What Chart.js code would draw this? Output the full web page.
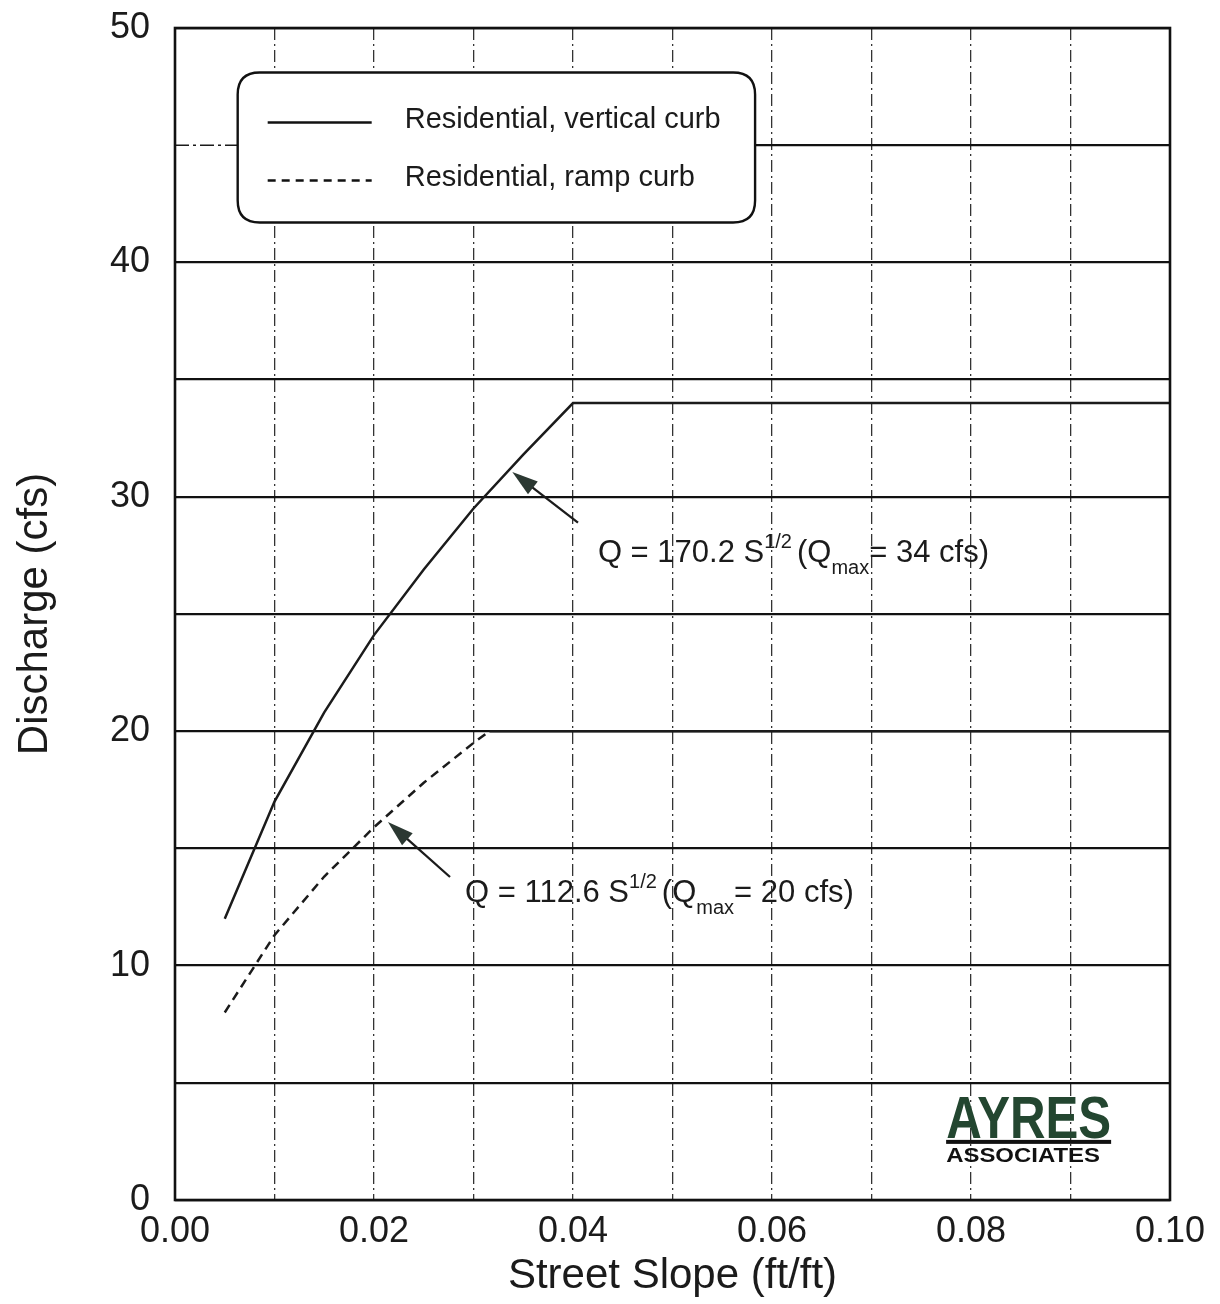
<!DOCTYPE html>
<html><head><meta charset="utf-8">
<script src="https://cdn.jsdelivr.net/npm/chart.js@4.4.0/dist/chart.umd.min.js"></script>
<style>html,body{margin:0;padding:0;background:#fff;}canvas{display:block;}</style>
</head><body>
<canvas id="c" width="1220" height="1304"></canvas>
<script>
// ---- data ----
const verticalSlope = [0.005, 0.01, 0.015, 0.02, 0.025, 0.03, 0.035, 0.04, 0.10];
const verticalCurb  = [12.0, 17.0, 20.8, 24.1, 26.9, 29.5, 31.8, 34.0, 34.0];
const rampSlope     = [0.005, 0.01, 0.015, 0.02, 0.025, 0.03, 0.0316, 0.10];
const rampCurb      = [8.0, 11.3, 13.8, 15.9, 17.8, 19.5, 20.0, 20.0];
const yTickLabels = ['0','10','20','30','40','50'];
const xTickLabels = ['0.00','0.02','0.04','0.06','0.08','0.10'];
const seriesNames = ['Residential, vertical curb', 'Residential, ramp curb'];

const FONT = "'Liberation Sans', Arial, Helvetica, sans-serif";
const INK = '#1b1b1b';

function toXY(xs, ys){ return xs.map((x,i)=>({x:x, y:ys[i]})); }

function richText(ctx, x, y, segs){
  let cx = x;
  for (const s of segs){
    ctx.font = s.size + 'px ' + FONT;
    ctx.fillText(s.t, cx, y + (s.dy||0));
    cx += ctx.measureText(s.t).width + (s.gap||0);
  }
}
function arrow(ctx, x1, y1, x2, y2){
  const ang = Math.atan2(y2-y1, x2-x1);
  const L = 26, W = 8;
  ctx.strokeStyle = INK; ctx.lineWidth = 2.3; ctx.setLineDash([]);
  ctx.beginPath(); ctx.moveTo(x1,y1);
  ctx.lineTo(x2 - Math.cos(ang)*L*0.8, y2 - Math.sin(ang)*L*0.8); ctx.stroke();
  ctx.fillStyle = '#2b3832';
  ctx.beginPath();
  ctx.moveTo(x2, y2);
  ctx.lineTo(x2 - Math.cos(ang)*L + Math.sin(ang)*W, y2 - Math.sin(ang)*L - Math.cos(ang)*W);
  ctx.lineTo(x2 - Math.cos(ang)*L - Math.sin(ang)*W, y2 - Math.sin(ang)*L + Math.cos(ang)*W);
  ctx.closePath(); ctx.fill();
}
function roundRect(ctx, x, y, w, h, r){
  ctx.beginPath();
  ctx.moveTo(x+r, y); ctx.lineTo(x+w-r, y); ctx.quadraticCurveTo(x+w, y, x+w, y+r);
  ctx.lineTo(x+w, y+h-r); ctx.quadraticCurveTo(x+w, y+h, x+w-r, y+h);
  ctx.lineTo(x+r, y+h); ctx.quadraticCurveTo(x, y+h, x, y+h-r);
  ctx.lineTo(x, y+r); ctx.quadraticCurveTo(x, y, x+r, y);
  ctx.closePath();
}

const decor = {
  id: 'decor',
  beforeDatasetsDraw(chart){
    const ctx = chart.ctx, xs = chart.scales.x, ys = chart.scales.y, a = chart.chartArea;
    const y45 = ys.getPixelForValue(45);
    ctx.save();
    ctx.fillStyle = '#fff';
    ctx.fillRect(a.left+1, y45-2, xs.getPixelForValue(0.0063)-a.left, 4);
    ctx.strokeStyle = INK; ctx.lineWidth = 1.6; ctx.setLineDash([14,4,3,4]);
    ctx.beginPath(); ctx.moveTo(a.left, y45); ctx.lineTo(xs.getPixelForValue(0.0063), y45); ctx.stroke();
    ctx.restore();
  },
  afterDatasetsDraw(chart){
    const ctx = chart.ctx, xs = chart.scales.x, ys = chart.scales.y, a = chart.chartArea;
    ctx.save();
    ctx.setLineDash([]);
    ctx.strokeStyle = '#111'; ctx.lineWidth = 2.6;
    ctx.strokeRect(a.left, a.top, a.right-a.left, a.bottom-a.top);

    // legend box
    const bx = xs.getPixelForValue(0.0063), bx2 = xs.getPixelForValue(0.0583);
    const by = ys.getPixelForValue(48.1), by2 = ys.getPixelForValue(41.7);
    roundRect(ctx, bx, by, bx2-bx, by2-by, 22);
    ctx.fillStyle = '#fff'; ctx.fill();
    ctx.strokeStyle = '#111'; ctx.lineWidth = 2.4; ctx.stroke();
    ctx.lineWidth = 2.4;
    ctx.beginPath(); ctx.moveTo(bx+30, by+50); ctx.lineTo(bx+134, by+50); ctx.stroke();
    ctx.setLineDash([8,6]);
    ctx.beginPath(); ctx.moveTo(bx+30, by+108); ctx.lineTo(bx+134, by+108); ctx.stroke();
    ctx.setLineDash([]);
    ctx.fillStyle = INK; ctx.font = '29px ' + FONT; ctx.textBaseline = 'alphabetic';
    ctx.fillText(seriesNames[0], bx+167, by+55);
    ctx.fillText(seriesNames[1], bx+167, by+113);

    // annotations
    arrow(ctx, xs.getPixelForValue(0.0405), ys.getPixelForValue(28.9), xs.getPixelForValue(0.0339), ys.getPixelForValue(31.06));
    arrow(ctx, xs.getPixelForValue(0.02764), ys.getPixelForValue(13.78), xs.getPixelForValue(0.0214), ys.getPixelForValue(16.13));
    ctx.fillStyle = INK;
    richText(ctx, xs.getPixelForValue(0.0425), ys.getPixelForValue(27.2), [
      {t:'Q = 170.2 S', size:31}, {t:'1/2', size:20, dy:-14, gap:5}, {t:'(Q', size:31},
      {t:'max', size:20, dy:12}, {t:'= 34 cfs)', size:31}
    ]);
    richText(ctx, xs.getPixelForValue(0.02915), ys.getPixelForValue(12.7), [
      {t:'Q = 112.6 S', size:31}, {t:'1/2', size:20, dy:-14, gap:5}, {t:'(Q', size:31},
      {t:'max', size:20, dy:12}, {t:'= 20 cfs)', size:31}
    ]);

    // logo
    const lx = xs.getPixelForValue(0.0775), lb = ys.getPixelForValue(2.65);
    ctx.save();
    ctx.translate(lx, lb); ctx.scale(0.82, 1);
    ctx.font = 'bold 60px ' + FONT; ctx.fillStyle = '#234630';
    ctx.fillText('AYRES', 0, 0);
    ctx.restore();
    ctx.fillStyle = '#111';
    ctx.fillRect(lx, lb+2, 165, 4);
    ctx.save();
    ctx.translate(lx, lb+24); ctx.scale(1.14, 1);
    ctx.font = 'bold 21px ' + FONT; ctx.fillStyle = '#111';
    ctx.fillText('ASSOCIATES', 0, 0);
    ctx.restore();
    ctx.restore();
  }
};

new Chart(document.getElementById('c'), {
  type: 'line',
  data: {
    datasets: [
      { label: seriesNames[0], data: toXY(verticalSlope, verticalCurb), borderColor: INK, borderWidth: 2.5,
        pointRadius: 0, tension: 0, fill: false },
      { label: seriesNames[1], data: toXY(rampSlope, rampCurb), borderColor: INK, borderWidth: 2.5,
        borderDash: [9,6], pointRadius: 0, tension: 0, fill: false,
        segment: { borderDash: c => (c.p0.parsed.y === c.p1.parsed.y ? [] : undefined) } }
    ]
  },
  options: {
    responsive: false, animation: false, devicePixelRatio: 1,
    layout: { padding: { top: 28, right: 50, left: 0, bottom: 0 } },
    plugins: { legend: { display: false }, tooltip: { enabled: false } },
    scales: {
      x: {
        type: 'linear', min: 0, max: 0.1,
        afterFit(s){ s.height = 104; },
        ticks: { stepSize: 0.01, padding: 10, color: INK, font: { family: FONT, size: 36 },
          maxRotation: 0, autoSkip: false,
          callback(v){ const k = Math.round(v*100); return k % 2 === 0 ? xTickLabels[k/2] : ''; } },
        grid: { color: '#333', lineWidth: 1.3, drawTicks: false },
        border: { display: false, dash: [12,4,2,4] },
        title: { display: true, text: 'Street Slope (ft/ft)', color: INK, font: { family: FONT, size: 42 }, padding: { top: 0, bottom: 2 } }
      },
      y: {
        type: 'linear', min: 0, max: 50,
        afterFit(s){ s.width = 175; s.paddingTop = 0; s.paddingBottom = 0; },
        ticks: { stepSize: 5, padding: 25, color: INK, font: { family: FONT, size: 36 }, autoSkip: false,
          callback(v){ const k = Math.round(v); return k % 10 === 0 ? yTickLabels[k/10] : ''; } },
        grid: { color: '#111', lineWidth: 2.3, drawTicks: false },
        border: { display: false },
        title: { display: true, text: 'Discharge (cfs)', color: INK, font: { family: FONT, size: 42 }, padding: { top: 10, bottom: 0 } }
      }
    }
  },
  plugins: [decor]
});
</script>
</body></html>
